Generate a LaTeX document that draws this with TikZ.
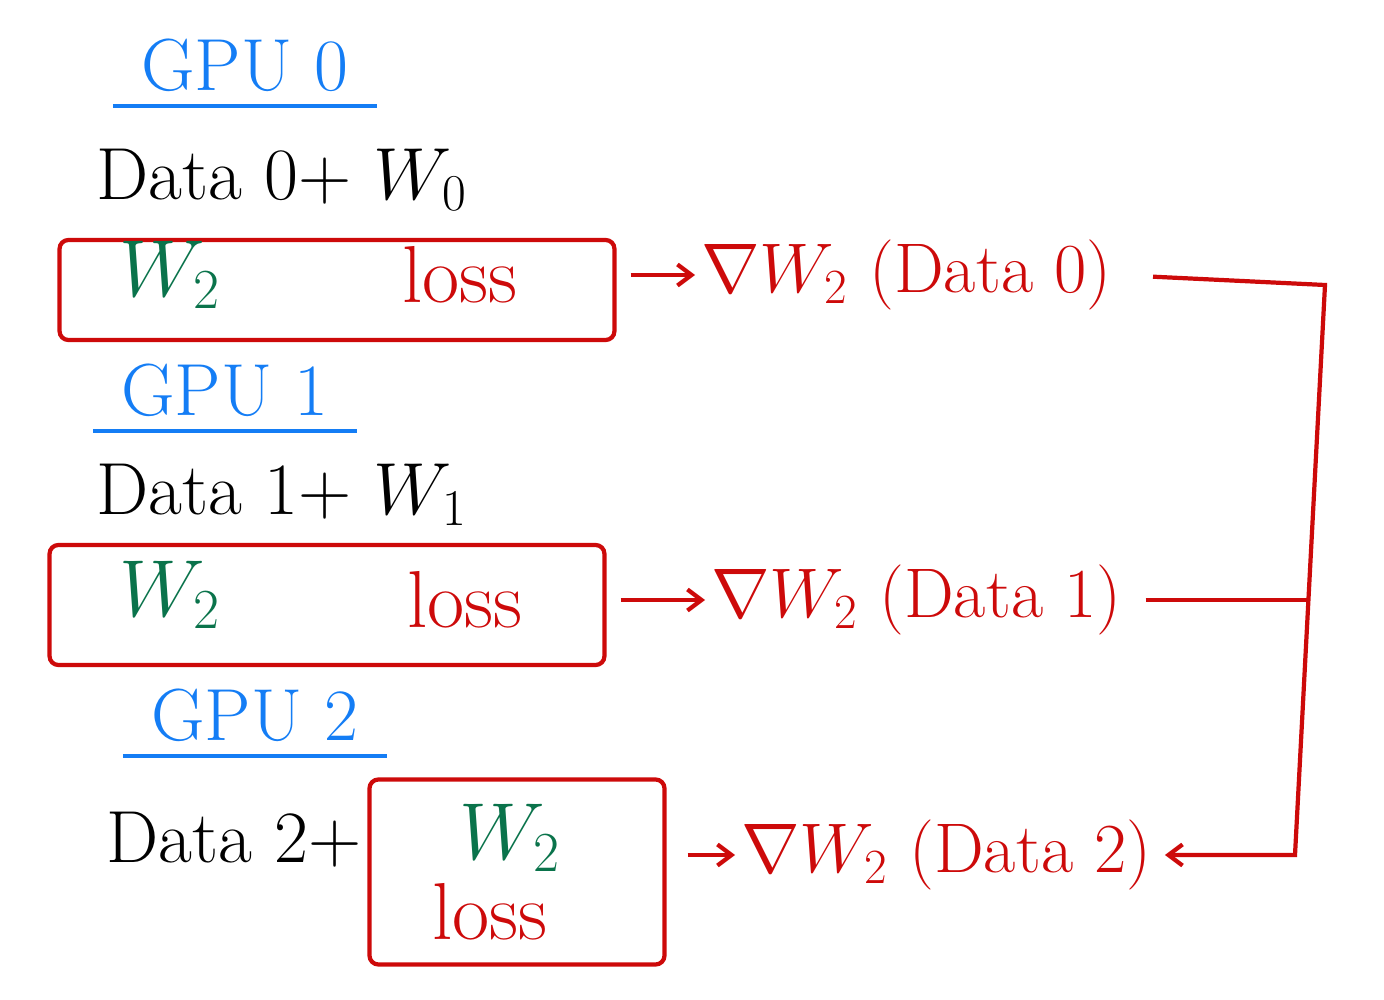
\RequirePackage{fix-cm}
\documentclass[tikz,border=0pt]{standalone}
\usepackage{amssymb}
\usetikzlibrary{positioning,arrows.meta}
\definecolor{gpublue}{RGB}{20,125,245}
\definecolor{boxred}{RGB}{205,10,10}
\definecolor{wgreen}{RGB}{10,115,75}
\tikzset{
  gpulabel/.style={text=gpublue, font=\fontsize{42}{48}\selectfont, inner sep=8pt},
  gpuline/.style={draw=gpublue, line width=2.2pt},
  datalabel/.style={font=\fontsize{42}{48}\selectfont, anchor=west},
  redbox/.style={draw=boxred, line width=2.4pt, rounded corners=5pt},
  wlabel/.style={text=wgreen, font=\fontsize{46}{52}\selectfont},
  losslabel/.style={text=boxred, font=\fontsize{46}{52}\selectfont},
  gradlabel/.style={text=boxred, font=\fontsize{40}{46}\selectfont, anchor=west},
  redline/.style={draw=boxred, line width=2.4pt},
  redarrow/.style={redline, -{Straight Barb[length=8pt,width=12pt]}},
}

\begin{document}
\begin{tikzpicture}[x=0.02cm,y=-0.02cm]
    \useasboundingbox (0,0) rectangle (1384,1000);

    % GPU 0
    \node[gpulabel] (gpu0) at (245,65) {GPU 0};
    \draw[gpuline] ([xshift=-8pt]gpu0.south west) -- ([xshift=8pt]gpu0.south east);
    \node[datalabel] (data0) at (90,180) {Data 0+ $W_0$};
    \node[redbox, minimum width=11.1cm, minimum height=2cm] (box0) at (337,290) {};
    \node[wlabel] (w2a) at (170,275) {$W_2$};
    \node[losslabel] (loss0) at (460,275) {loss};
    \node[gradlabel] (grad0) at (695,275) {$\nabla W_2$ (Data 0)};

    % GPU 1
    \node[gpulabel] (gpu1) at (225,390) {GPU 1};
    \draw[gpuline] ([xshift=-8pt]gpu1.south west) -- ([xshift=8pt]gpu1.south east);
    \node[datalabel] (data1) at (90,495) {Data 1+ $W_1$};
    \node[redbox, minimum width=11.1cm, minimum height=2.4cm] (box1) at (327,605) {};
    \node[wlabel] (w2b) at (170,595) {$W_2$};
    \node[losslabel] (loss1) at (465,600) {loss};
    \node[gradlabel] (grad1) at (705,600) {$\nabla W_2$ (Data 1)};

    % GPU 2
    \node[gpulabel] (gpu2) at (255,715) {GPU 2};
    \draw[gpuline] ([xshift=-8pt]gpu2.south west) -- ([xshift=8pt]gpu2.south east);
    \node[datalabel] (data2) at (100,840) {Data 2+};
    \node[redbox, minimum width=5.9cm, minimum height=3.7cm] (box2) at (517,872) {};
    \node[wlabel] (w2c) at (510,838) {$W_2$};
    \node[losslabel] (loss2) at (490,912) {loss};
    \node[gradlabel] (grad2) at (735,855) {$\nabla W_2$ (Data 2)};

    % gradients out of each box
    \draw[redarrow, shorten <=8pt] (box0.east |- grad0.west) -- (grad0.west);
    \draw[redarrow, shorten <=8pt] (box1.east |- grad1.west) -- (grad1.west);
    \draw[redarrow, shorten <=12pt] (box2.east |- grad2.west) -- (grad2.west);

    % gather into GPU 2
    \coordinate (r0) at (1325,285);
    \coordinate (r1) at (1308,600);
    \coordinate (r2) at (1295,855);
    \draw[redarrow, shorten <=20pt, shorten >=4pt] (grad0.east) -- (r0) -- (r2) -- (grad2.east);
    \draw[redline, shorten <=10pt] (grad1.east) -- (r1);
\end{tikzpicture}
\end{document}
